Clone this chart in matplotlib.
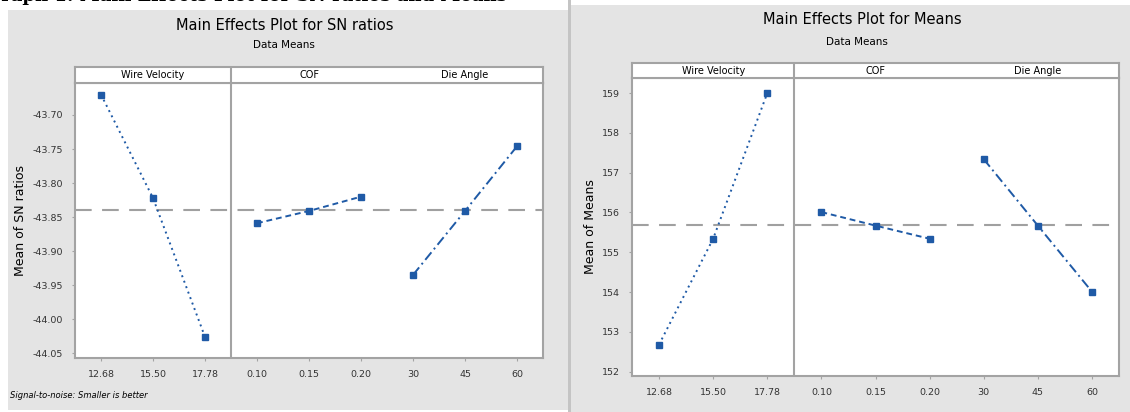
import matplotlib.pyplot as plt
from matplotlib.patches import Rectangle

# factor levels shown on the x axis
factors = ["Wire Velocity", "COF", "Die Angle"]
wire_levels = ["12.68", "15.50", "17.78"]
cof_levels = ["0.10", "0.15", "0.20"]
die_levels = ["30", "45", "60"]

# mean of SN ratios per level
sn_wire = [-43.670, -43.822, -44.026]
sn_cof = [-43.859, -43.841, -43.820]
sn_die = [-43.935, -43.841, -43.746]
sn_ticks = [-43.70, -43.75, -43.80, -43.85, -43.90, -43.95, -44.00, -44.05]

# mean of means per level
mean_wire = [152.68, 155.34, 159.00]
mean_cof = [156.01, 155.67, 155.34]
mean_die = [157.34, 155.67, 154.01]
mean_ticks = [159, 158, 157, 156, 155, 154, 153, 152]

W, H = 1130, 412
fig = plt.figure(figsize=(W / 100, H / 100), dpi=100)
fig.patch.set_facecolor("white")

BG = "#e4e4e4"
FRAME = "#a3a3a3"
BLUE = "#1f5aa6"
styles = [(0, (1, 2)), (0, (3, 2)), (0, (5, 2, 1, 2))]


def box(x0, y0, x1, y1):
    # pixel box (from top-left) -> figure coords
    return [x0 / W, 1 - y1 / H, (x1 - x0) / W, (y1 - y0) / H]


# gray panels behind everything
for rect in [((8, 10, 568, 410), BG), ((571, 5, 1130, 412), BG), ((568, 0, 571, 412), "#c4c4c4")]:
    (x0, y0, x1, y1), c = rect
    fig.patches.append(Rectangle((x0 / W, 1 - y1 / H), (x1 - x0) / W, (y1 - y0) / H,
                                 transform=fig.transFigure, facecolor=c, edgecolor="none", zorder=-5))

# cut-off caption at the very top (only its lower edge shows)
fig.text(-0.012, 1 - 1 / H, "Graph 1: Main Effects Plot for SN ratios and Means",
         family="DejaVu Serif", weight="bold", fontsize=13, va="baseline", ha="left")


def draw_chart(main_box, strip_box, groups, ticks, ylim, fmt, ylabel):
    ax = fig.add_axes(box(*main_box))
    st = fig.add_axes(box(*strip_box))
    labels = wire_levels + cof_levels + die_levels
    for g, (vals, ls) in enumerate(zip(groups, styles)):
        xs = [3 * g + i for i in range(len(vals))]
        ax.plot(xs, vals, color=BLUE, linestyle=ls, lw=1.4, marker="s", ms=4.5,
                markerfacecolor=BLUE, markeredgecolor=BLUE, zorder=3)
    allv = [v for g in groups for v in g]
    ax.axhline(sum(allv) / len(allv), color="#a0a0a0", lw=1.5, linestyle=(0, (8, 5)), zorder=2)
    ax.axvline(2.5, color=FRAME, lw=1.5)
    ax.set_xlim(-0.5, 8.5)
    ax.set_ylim(*ylim)
    ax.set_xticks(range(9))
    ax.set_xticklabels(labels, fontsize=6.8, color="#333333")
    ax.set_yticks(ticks)
    ax.set_yticklabels([fmt.format(t) for t in ticks], fontsize=6.8, color="#333333")
    ax.tick_params(length=2.5, width=0.8, color=FRAME, pad=6)
    ax.set_ylabel(ylabel, fontsize=9, labelpad=4)
    for s in ax.spines.values():
        s.set_color(FRAME)
        s.set_linewidth(1.5)
    ax.set_facecolor("white")

    st.set_xlim(-0.5, 8.5)
    st.set_ylim(0, 1)
    st.set_xticks([])
    st.set_yticks([])
    st.axvline(2.5, color=FRAME, lw=1.5)
    for s in st.spines.values():
        s.set_color(FRAME)
        s.set_linewidth(1.5)
    for g, name in enumerate(factors):
        st.text(3 * g + 1, 0.5, name, ha="center", va="center", fontsize=7)
    return ax


draw_chart((75, 83, 543, 358), (75, 67, 543, 83), [sn_wire, sn_cof, sn_die],
           sn_ticks, (-44.057, -43.653), "{:.2f}", "Mean of SN ratios")
draw_chart((632, 78, 1119, 376), (632, 63, 1119, 78), [mean_wire, mean_cof, mean_die],
           mean_ticks, (151.89, 159.38), "{:d}", "Mean of Means")

fig.text(285 / W, 1 - 26 / H, "Main Effects Plot for SN ratios", ha="center", va="center", fontsize=10.5)
fig.text(284 / W, 1 - 45 / H, "Data Means", ha="center", va="center", fontsize=7.5)
fig.text(862 / W, 1 - 20 / H, "Main Effects Plot for Means", ha="center", va="center", fontsize=10.5)
fig.text(857 / W, 1 - 42 / H, "Data Means", ha="center", va="center", fontsize=7.5)
fig.text(10 / W, 1 - 395 / H, "Signal-to-noise: Smaller is better", ha="left", va="center",
         fontsize=6, style="italic")

fig.savefig("out.png", dpi=100, facecolor=fig.get_facecolor())
